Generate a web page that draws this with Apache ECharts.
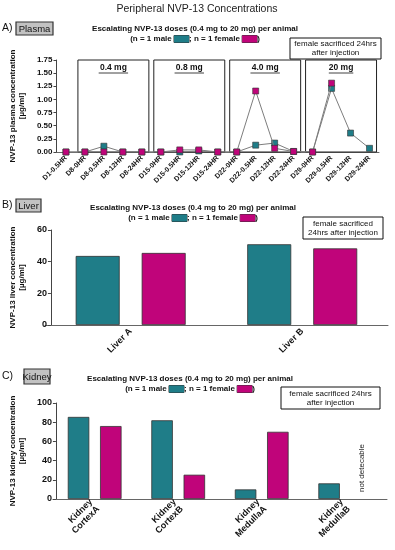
<!DOCTYPE html>
<html><head><meta charset="utf-8">
<script src="https://cdn.jsdelivr.net/npm/echarts@6/dist/echarts.min.js"></script>
<style>html,body{margin:0;padding:0;background:#fff}#c{width:395px;height:550px}</style>
</head><body><div id="c"></div>
<script>
// ---- data ----
const plasmaCategories = ['D1-0.5HR','D8-0HR','D8-0.5HR','D8-12HR','D8-24HR','D15-0HR','D15-0.5HR','D15-12HR','D15-24HR','D22-0HR','D22-0.5HR','D22-12HR','D22-24HR','D29-0HR','D29-0.5HR','D29-12HR','D29-24HR'];
const plasmaMale   = [0, 0, 0.11, 0, 0, 0, 0, 0.02, 0, 0, 0.13, 0.17, 0.01, 0, 1.21, 0.36, 0.07];
const plasmaFemale = [0, 0, 0, 0, 0, 0, 0.04, 0.04, 0, 0, 1.16, 0.07, 0.01, 0, 1.31, null, null];
const doseLabels = ['0.4 mg', '0.8 mg', '4.0 mg', '20 mg'];
const doseStart  = [1, 5, 9, 13];
const doseEnd    = [4, 8, 12, 16];
const plasmaTicks = [0, 1.75, 0.25];

const liverCategories = ['Liver A', 'Liver B'];
const liverMale   = [43.6, 51.0];
const liverFemale = [45.5, 48.4];

const kidneyCategories = ['Kidney\nCortexA', 'Kidney\nCortexB', 'Kidney\nMedullaA', 'Kidney\nMedullaB'];
const kidneyMale   = [85.5, 82, 10, 16.3];
const kidneyFemale = [76, 25.3, 70, null];

// ---- styles ----
const TEAL = '#1f7d88', MAG = '#c0047a';
const FF = 'Liberation Sans, Arial, sans-serif';
const chart = echarts.init(document.getElementById('c'), null, {renderer: 'canvas'});

function yAx(gi, min, max, interval, name, dec, fs, off) {
  return {
    gridIndex: gi, type: 'value', min, max, interval, offset: off,
    name, nameLocation: 'middle', nameGap: dec ? 24 : 22, nameRotate: 90,
    nameTextStyle: {fontFamily: FF, fontWeight: 'bold', fontSize: 8, color: '#111', lineHeight: 9},
    axisLine: {show: true, lineStyle: {color: '#444', width: 1}},
    axisTick: {show: true, length: 3, lineStyle: {color: '#444'}},
    axisLabel: {fontFamily: FF, fontWeight: 'bold', fontSize: fs, color: '#111', margin: 4,
      formatter: v => dec ? v.toFixed(2) : String(v)},
    splitLine: {show: false}
  };
}
function xAx(gi, data, fs, lh) {
  return {
    gridIndex: gi, type: 'category', data,
    axisLine: {show: true, lineStyle: {color: '#666', width: 1}},
    axisTick: {show: false},
    axisLabel: {interval: 0, rotate: 45, fontFamily: FF, fontWeight: 'bold', fontSize: fs, color: '#111', margin: 5, lineHeight: lh, align: 'right'}
  };
}

const legendRich = {
  b: {fontFamily: FF, fontWeight: 'bold', fontSize: 8, fill: '#111'},
  m: {width: 15, height: 7, backgroundColor: TEAL, borderColor: '#333', borderWidth: 0.5},
  f: {width: 15, height: 7, backgroundColor: MAG, borderColor: '#333', borderWidth: 0.5}
};
function subTitle(cx, y) {
  return [
    {type: 'text', x: cx, y: y, style: {text: 'Escalating NVP-13 doses (0.4 mg to 20 mg) per animal', align: 'center', verticalAlign: 'middle', fontFamily: FF, fontWeight: 'bold', fontSize: 8, fill: '#111'}},
    {type: 'text', x: cx, y: y + 10, style: {text: '{b|(n = 1 male }{m|}{b|; n = 1 female }{f|}{b|)}', rich: legendRich, align: 'center', verticalAlign: 'middle', fontFamily: FF, fontSize: 8}}
  ];
}
function panelTag(letter, word, x0, y0, w, h) {
  return [
    {type: 'text', x: 2, y: y0 + h / 2, style: {text: letter, verticalAlign: 'middle', fontFamily: FF, fontSize: 10.5, fill: '#111'}},
    {type: 'rect', shape: {x: x0, y: y0, width: w, height: h}, style: {fill: '#c2c2c2', stroke: '#333', lineWidth: 1.2}},
    {type: 'text', x: x0 + w / 2, y: y0 + h / 2 + 0.5, style: {text: word, align: 'center', verticalAlign: 'middle', fontFamily: FF, fontSize: 9.5, fill: '#111'}}
  ];
}
function noteBox(x0, y0, w, h, text) {
  return [
    {type: 'rect', shape: {x: x0, y: y0, width: w, height: h}, style: {fill: '#fff', stroke: '#111', lineWidth: 1}},
    {type: 'text', x: x0 + w / 2, y: y0 + h / 2, style: {text, align: 'center', verticalAlign: 'middle', fontFamily: FF, fontSize: 8, lineHeight: 9, fill: '#111'}}
  ];
}

const graphic = [].concat(
  [{type: 'text', x: 197, y: 9, style: {text: 'Peripheral NVP-13 Concentrations', align: 'center', verticalAlign: 'middle', fontFamily: FF, fontSize: 10.5, fill: '#222'}}],
  panelTag('A)', 'Plasma', 16, 22, 37, 13),
  subTitle(195, 29),
  noteBox(290, 38, 91, 21, 'female sacrificed 24hrs\nafter injection'),
  panelTag('B)', 'Liver', 16, 199, 25, 13),
  subTitle(193, 208),
  noteBox(303, 217, 80, 22, 'female sacrificed\n24hrs after injection'),
  panelTag('C)', 'Kidney', 24, 369, 26, 15),
  subTitle(190, 379),
  noteBox(281, 387, 99, 22, 'female sacrificed 24hrs\nafter injection'),
  [{type: 'text', x: 362, y: 468, rotation: Math.PI / 2, style: {text: 'not detecable', align: 'center', verticalAlign: 'middle', fontFamily: FF, fontSize: 8, fill: '#222'}}]
);

const lineCommon = {
  type: 'line', xAxisIndex: 0, yAxisIndex: 0, symbol: 'rect', symbolSize: 6,
  lineStyle: {color: '#7d7d7d', width: 1}, connectNulls: false, animation: false
};
const barCommon = {type: 'bar', barGap: '50%', animation: false};

const option = {
  animation: false,
  graphic,
  grid: [
    {left: 50, top: 60, width: 329, height: 92},
    {left: 43, top: 230, width: 345, height: 95},
    {left: 46, top: 403, width: 341, height: 96}
  ],
  xAxis: [xAx(0, plasmaCategories, 7, 8), xAx(1, liverCategories, 9, 10), xAx(2, kidneyCategories, 9, 10)],
  yAxis: [
    yAx(0, plasmaTicks[0], plasmaTicks[1], plasmaTicks[2], 'NVP-13 plasma concentration\n[µg/ml]', true, 8, 0),
    yAx(1, 0, 60, 20, 'NVP-13 liver concentration\n[µg/ml]', false, 9, -6),
    yAx(2, 0, 100, 20, 'NVP-13 kidney concentration\n[µg/ml]', false, 9, -3)
  ],
  series: [
    {
      type: 'custom', xAxisIndex: 0, yAxisIndex: 0, z: 1, silent: true,
      data: doseStart.map((s, i) => [s, doseEnd[i]]),
      encode: {x: [0, 1]},
      renderItem: function (params, api) {
        const s = api.value(0), e = api.value(1);
        const top = api.coord([s, plasmaTicks[1]]);
        const bot = api.coord([e, 0]);
        const bw = api.size([1, 0])[0];
        const x0 = top[0] - 0.37 * bw, x1 = bot[0] + 0.37 * bw;
        const label = doseLabels[params.dataIndex];
        const cx = (x0 + x1) / 2, ty = top[1] + 8;
        const approxW = label.length * 4.9;
        return {
          type: 'group', children: [
            {type: 'rect', shape: {x: x0, y: top[1], width: x1 - x0, height: bot[1] - top[1]}, style: {fill: 'none', stroke: '#222', lineWidth: 1}},
            {type: 'text', x: cx, y: ty, style: {text: label, align: 'center', verticalAlign: 'middle', fontFamily: FF, fontWeight: 'bold', fontSize: 8.5, fill: '#111'}},
            {type: 'line', shape: {x1: cx - approxW / 2, y1: ty + 5, x2: cx + approxW / 2, y2: ty + 5}, style: {stroke: '#111', lineWidth: 0.8}}
          ]
        };
      }
    },
    Object.assign({}, lineCommon, {name: 'male', data: plasmaMale, z: 3, itemStyle: {color: TEAL, borderColor: '#333', borderWidth: 0.6}}),
    Object.assign({}, lineCommon, {name: 'female', data: plasmaFemale, z: 4, itemStyle: {color: MAG, borderColor: '#333', borderWidth: 0.6}}),
    Object.assign({}, barCommon, {xAxisIndex: 1, yAxisIndex: 1, data: liverMale, barWidth: 44, itemStyle: {color: TEAL, borderColor: '#333', borderWidth: 0.8}}),
    Object.assign({}, barCommon, {xAxisIndex: 1, yAxisIndex: 1, data: liverFemale, barWidth: 44, itemStyle: {color: MAG, borderColor: '#333', borderWidth: 0.8}}),
    Object.assign({}, barCommon, {xAxisIndex: 2, yAxisIndex: 2, data: kidneyMale, barWidth: 21.5, itemStyle: {color: TEAL, borderColor: '#333', borderWidth: 0.8}}),
    Object.assign({}, barCommon, {xAxisIndex: 2, yAxisIndex: 2, data: kidneyFemale, barWidth: 21.5, itemStyle: {color: MAG, borderColor: '#333', borderWidth: 0.8}})
  ]
};
chart.setOption(option);
</script>
</body></html>
